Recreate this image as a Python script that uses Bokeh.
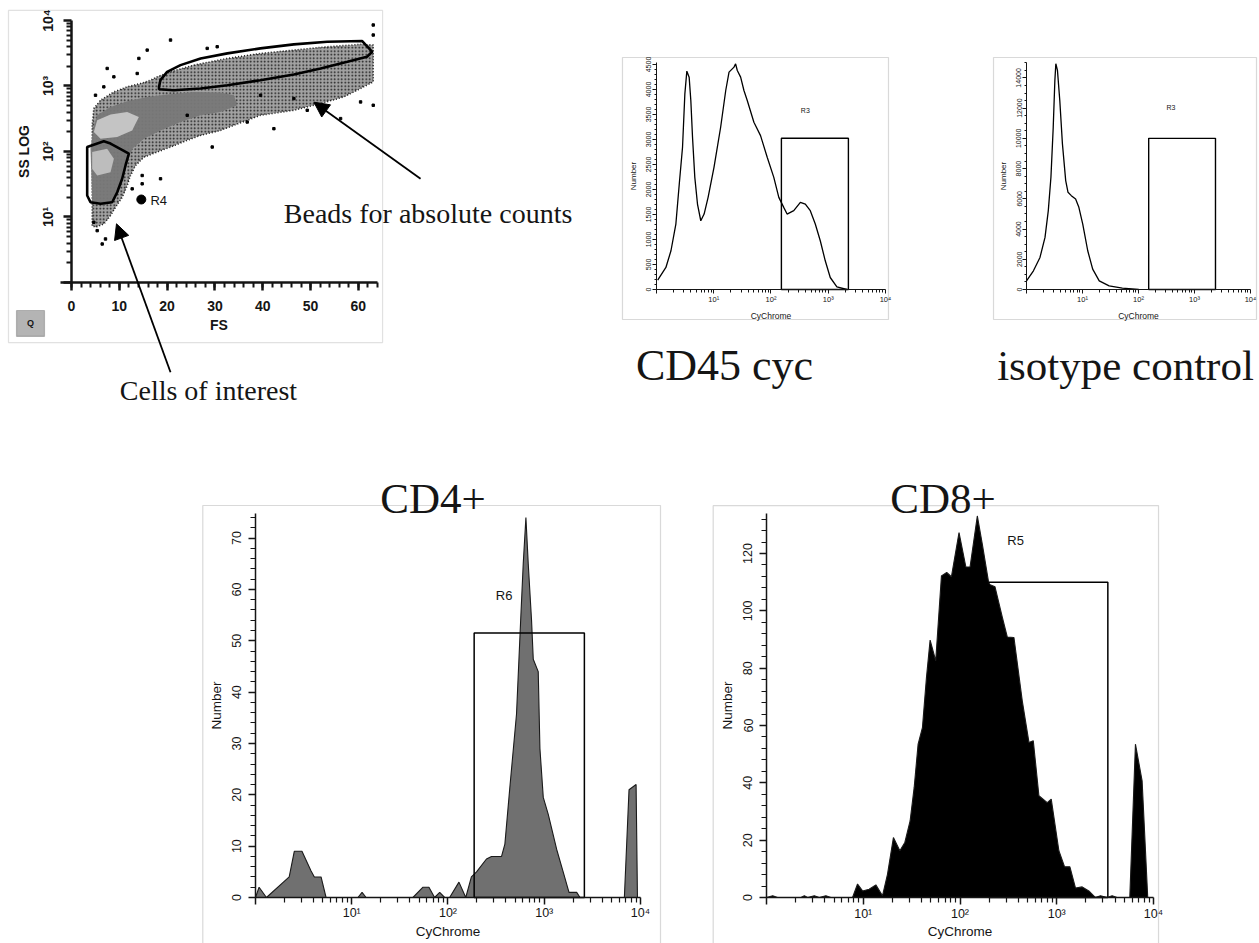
from bokeh.plotting import figure
from bokeh.layouts import row, column
from bokeh.models import FixedTicker, BoxAnnotation, Label, Arrow, NormalHead
from bokeh.embed import file_html
from bokeh.resources import INLINE

# ------------------------------------------------------------------ data
# Scatter panel: FS (linear) vs SS LOG
cloud_fs = [4.32, 4.32, 4.67, 6.07, 8.86, 11.65, 14.44, 16.53, 17.92, 20.71, 25.59, 32.57, 39.54, 46.51,
            53.49, 60.46, 63.11, 63.11, 60.46, 56.97, 52.09, 46.51, 39.54, 33.96, 31.17, 26.99, 24.2,
            20.71, 17.92, 15.13, 13.39, 12.34, 11.65, 10.6, 9.2, 8.16, 6.76, 5.02]
cloud_ss = [7.4, 251, 452, 606, 813, 970, 1091, 1227, 1380, 1645, 2083, 2636, 3141, 3533, 3975, 4316,
            4217, 1157, 915, 682, 539, 426, 357, 251, 210, 176, 148, 117, 98, 82, 61, 43, 30.3, 20,
            14.1, 10.5, 7.83, 6.96]
band_fs = [4.67, 5.37, 8.16, 11.65, 15.83, 20.01, 25.59, 31.17, 33.96, 34.66, 31.17, 26.99, 22.8,
           18.62, 15.13, 12.69, 11.99, 10.95, 9.9, 8.86, 6.76, 4.32, 3.97]
band_ss = [251, 357, 479, 585, 682, 740, 813, 794, 723, 508, 402, 357, 282, 210, 157, 110, 77.5,
           48.4, 30.3, 18.9, 14.9, 16.8, 110]
core1_fs = [5.37, 8.16, 11.65, 14.09, 12.69, 9.55, 6.07, 4.67]
core1_ss = [299, 366, 402, 337, 210, 166, 157, 199]
core2_fs = [4.32, 7.46, 8.86, 8.16, 5.37, 4.32]
core2_ss = [98, 110, 77.5, 48.4, 43, 54.5]
out_fs = [20.71, 28.38, 30.47, 15.83, 14.09, 7.46, 8.86, 13.74, 6.76, 5.02, 29.43, 18.62, 14.78,
          14.78, 12.69, 6.42, 7.11, 5.37, 4.67, 36.75, 42.33, 49.3, 56.28, 60.46, 63.11, 63.11,
          63.11, 24.2, 39.54, 46.51]
out_ss = [5024, 3750, 3975, 3533, 2636, 1852, 1380, 1552, 970, 723, 117, 38.3, 43, 32.1, 26.9,
          3.87, 4.62, 6.19, 8.3, 282, 223, 426, 318, 571, 508, 8530, 5997, 357, 723, 643]
bead_gate_fs = [18.3, 18.6, 20.0, 22.8, 27.0, 32.6, 39.5, 46.5, 53.5, 60.8, 62.9, 61.8, 57.7, 52.1,
                46.5, 39.5, 32.6, 27.0, 21.4, 18.3]
bead_gate_ss = [969, 1227, 1644, 2083, 2637, 3148, 3750, 4315, 4732, 4853, 3326, 2790, 2339, 1853,
                1500, 1227, 1028, 916, 862, 893]
cell_gate_fs = [3.28, 6.76, 8.16, 12.0, 11.3, 10.6, 9.56, 8.51, 6.07, 3.97, 3.28]
cell_gate_ss = [117, 143, 132, 92.5, 61.2, 38.3, 23.9, 16.8, 15.9, 16.8, 21.3]
r4_fs = [14.6]
r4_ss = [18.5]
fs_ticks = [0, 10, 20, 30, 40, 50, 60]

# CD45 cyc histogram
cd45_x = [1.05, 1.46, 1.79, 2.18, 2.50, 2.85, 3.13, 3.39, 3.72, 3.98, 4.26, 4.67, 5.2, 5.94, 6.79,
          7.97, 10.1, 13.2, 16.2, 18.5, 22.6, 24.1, 25.8, 29.5, 33.7, 38.5, 50.3, 65.7, 85.9, 112,
          137, 167, 191, 250, 326, 398, 486, 594, 726, 887, 1084, 1416, 2114]
cd45_n = [187, 441, 775, 1309, 2110, 2844, 3913, 4367, 4247, 3779, 3045, 2243, 1709, 1375, 1509,
          1843, 2444, 3245, 3980, 4347, 4447, 4514, 4380, 4247, 3980, 3779, 3345, 3078, 2644, 2243,
          1843, 1643, 1509, 1576, 1743, 1709, 1576, 1309, 975, 574, 240, 53, 0]
cd45_gate = (152, 2250, 3025)     # left, right, top
cd45_ticks = [0, 500, 1000, 1500, 2000, 2500, 3000, 3500, 4000, 4500]

# isotype control histogram
iso_x = [1.0, 1.33, 1.74, 2.14, 2.45, 2.73, 3.0, 3.21, 3.34, 3.57, 3.93, 4.38, 5.01, 5.51, 6.31,
         7.53, 8.61, 10.1, 12.4, 15.2, 19.9, 29.9, 51.4, 101]
iso_n = [575, 1238, 2122, 3448, 5216, 7426, 10740, 13835, 14940, 14500, 12509, 9636, 7205, 6431,
         6210, 5989, 5437, 4332, 2564, 1348, 575, 243, 88, 0]
iso_gate = (152, 2370, 10000)
iso_ticks = [0, 2000, 4000, 6000, 8000, 10000, 12000, 14000]

# CD4+ histogram
cd4_x = [1.0, 1.09, 1.30, 2.24, 2.53, 3.04, 3.77, 4.09, 4.80, 5.41, 11.6, 12.8, 14.1, 43.2, 55.0,
         63.4, 72.6, 82, 92.4, 104, 130, 153, 175, 198, 251, 283, 360, 390, 439, 515, 572, 605,
         645, 682, 738, 769, 866, 902, 977, 1101, 1345, 1578, 1808, 2173, 2353, 6800, 7600, 9000,
         9300]
cd4_n = [0, 2, 0, 4, 9, 9, 5.2, 4, 4, 0, 0, 1, 0, 0, 2, 2, 0, 1, 0, 0, 3, 0, 4, 5, 7.5, 8, 8, 10.4,
         21.4, 35.7, 55, 65, 74, 65, 54, 46.4, 44, 29, 19.5, 16.2, 9.4, 4.9, 1, 1, 0, 0, 21, 22, 0]
cd4_gate = (187, 2612, 51.5)
cd4_ticks = [0, 10, 20, 30, 40, 50, 60, 70]

# CD8+ histogram
cd8_x = [1.0, 1.16, 1.30, 2.27, 2.46, 2.66, 3.12, 3.51, 4.11, 4.63, 7.75, 8.73, 9.83, 11.5, 13.5,
         15.8, 17.8, 20.5, 23.9, 26.9, 30.5, 33.6, 36.9, 40.9, 45.0, 49.1, 56.1, 64.3, 72.9, 81.5,
         97.7, 115, 127, 151, 170, 199, 230, 274, 308, 361, 440, 516, 572, 654, 797, 877, 1052,
         1205, 1367, 1563, 1832, 2146, 2513, 2832, 3318, 3735, 4207, 5686, 6505, 7623, 8715]
cd8_n = [0, 0.6, 0, 0, 0.6, 0, 0.6, 0, 0.6, 0, 0, 4.7, 2.3, 2.9, 4.4, 0.6, 8.1, 20.9, 16.3, 19.2,
         26.7, 38.4, 53.5, 59.3, 76.7, 89.8, 82.6, 112.2, 113.4, 111.9, 127.3, 115.3, 115.3, 133.1,
         123.3, 109.3, 108.4, 97.7, 90.9, 90.7, 68.6, 54.1, 54.7, 35.5, 33.1, 34.3, 16.3, 10.7,
         10.7, 3.3, 3.7, 2.3, 0, 0.6, 0, 0.6, 0, 0, 53.5, 40.7, 0]
cd8_gate = (199, 3373, 110)
cd8_ticks = [0, 20, 40, 60, 80, 100, 120]

decades = [1, 10, 100, 1000, 10000]
decade_labels = {1: "", 10: "10¹", 100: "10²", 1000: "10³", 10000: "10⁴"}
log_minor = [m * 10 ** k for k in range(4) for m in range(2, 10)]

SANS = "Liberation Sans"
SERIF = "Liberation Serif"
INK = "#151515"


# ------------------------------------------------------------------ helpers
def base_fig(w, h, x_type, x_range, y_type, y_range):
    # whole canvas is the plotting frame; axes sit at fixed data locations inside it
    p = figure(width=w, height=h, x_axis_type=x_type, y_axis_type=y_type,
               x_range=x_range, y_range=y_range, output_backend="svg", toolbar_location=None,
               min_border=0)
    p.title.visible = False
    p.grid.visible = False
    p.outline_line_color = None
    p.background_fill_color = "white"
    p.border_fill_color = "white"
    return p


def style_axis(ax, label, tick_fs, label_fs, lw, tout, mout, standoff, lstand, loc, bounds,
               bold=False):
    ax.fixed_location = loc
    ax.bounds = bounds
    ax.axis_label = label
    ax.axis_label_text_font = SANS
    ax.axis_label_text_font_size = label_fs
    ax.axis_label_text_font_style = "bold" if bold else "normal"
    ax.axis_label_text_color = INK
    ax.axis_label_standoff = lstand
    ax.major_label_text_font = SANS
    ax.major_label_text_font_size = tick_fs
    ax.major_label_text_font_style = "bold" if bold else "normal"
    ax.major_label_text_color = INK
    ax.major_label_standoff = standoff
    ax.axis_line_width = lw
    ax.axis_line_color = INK
    ax.major_tick_in = 0
    ax.major_tick_out = tout
    ax.minor_tick_in = 0
    ax.minor_tick_out = mout
    ax.major_tick_line_color = INK
    ax.minor_tick_line_color = INK
    ax.major_tick_line_width = lw
    ax.minor_tick_line_width = max(1, lw * 0.8)


def frame_box(p, l, r, t, b, color="#808080", lw=1.2):
    p.add_layout(BoxAnnotation(left=l, right=r, top=t, bottom=b, fill_color=None,
                               line_color=color, line_width=lw, level="underlay"))


def text(p, x, y, s, size, font=SANS, align="center", baseline="alphabetic", style="normal"):
    p.add_layout(Label(x=x, y=y, text=s, text_font=font, text_font_size=size,
                       text_align=align, text_baseline=baseline, text_color=INK,
                       text_font_style=style, level="overlay"))


# ------------------------------------------------------------------ scatter panel
pA = base_fig(600, 420, "linear", (-14.85, 110.64), "log", (0.00782, 20190))
style_axis(pA.xaxis[0], "FS", "14px", "14px", 2.5, 8, 5, 11, 2, 1, (-2.3, 64), bold=True)
style_axis(pA.yaxis[0], "SS LOG", "14px", "14px", 2.5, 8, 5, 7, 6, 0, (1, 1e4), bold=True)
pA.xaxis[0].ticker = FixedTicker(ticks=fs_ticks, minor_ticks=list(range(0, 65, 2)))
pA.yaxis[0].ticker = FixedTicker(ticks=decades, minor_ticks=log_minor)
pA.yaxis[0].major_label_overrides = decade_labels
pA.yaxis[0].major_label_orientation = "vertical"

pA.patch(cloud_fs, cloud_ss, fill_color="#a2a2a2", line_color="#1e1e1e", line_width=1.6,
         line_dash="1 2", hatch_pattern="dot", hatch_color="#141414", hatch_scale=3.5,
         hatch_weight=1.2)
pA.patch(band_fs, band_ss, fill_color="#787878", line_color=None, fill_alpha=0.95)
pA.patch(core1_fs, core1_ss, fill_color="#c4c4c4", line_color=None)
pA.patch(core2_fs, core2_ss, fill_color="#bdbdbd", line_color=None)
pA.scatter(out_fs, out_ss, marker="square", size=2.4, color="black")
pA.patch(bead_gate_fs, bead_gate_ss, fill_color=None, line_color="black", line_width=2.6)
pA.patch(cell_gate_fs, cell_gate_ss, fill_color=None, line_color="black", line_width=2.6)
pA.scatter(r4_fs, r4_ss, size=9, color="black")
text(pA, 16.5, 17.9, "R4", "13px", align="left", baseline="middle")

# panel frame, Q button, annotations (layout positions)
frame_box(pA, -13.18, 65.06, 14220, 0.121, color="#9a9a9a", lw=1.2)
pA.add_layout(BoxAnnotation(left=-11.5, right=-5.65, top=0.374, bottom=0.15, fill_color="#b4b4b4",
                            fill_alpha=1, line_color="#4a4a4a", line_width=1.2, level="underlay"))
text(pA, -8.58, 0.237, "Q", "9px", baseline="middle", style="bold")
text(pA, 44.41, 11.2, "Beads for absolute counts", "28px", font=SERIF, align="left")
text(pA, 10.1, 0.0224, "Cells of interest", "28px", font=SERIF, align="left")
pA.add_layout(Arrow(end=NormalHead(size=15, fill_color="black", line_color="black"),
                    x_start=73.0, y_start=38.3, x_end=50.7, y_end=566,
                    line_color="black", line_width=1.8))
pA.add_layout(Arrow(end=NormalHead(size=15, fill_color="black", line_color="black"),
                    x_start=20.71, y_start=0.0427, x_end=9.41, y_end=7.87,
                    line_color="black", line_width=1.8))


# ------------------------------------------------------------------ small histograms
def small_hist(w, x_range, y_range, y_top, xs, ns, gate, yticks, yminor):
    p = base_fig(w, 420, "log", x_range, "linear", y_range)
    style_axis(p.xaxis[0], "CyChrome", "7.5px", "8.5px", 1, 4, 3, 1, 4, 0, (1, 1e4))
    style_axis(p.yaxis[0], "Number", "7px", "8px", 1, 4, 2, 1, 6, 1, (0, y_top))
    p.xaxis[0].ticker = FixedTicker(ticks=decades, minor_ticks=log_minor)
    p.xaxis[0].major_label_overrides = decade_labels
    p.yaxis[0].ticker = FixedTicker(ticks=yticks, minor_ticks=yminor)
    p.yaxis[0].major_label_orientation = "vertical"
    p.line(xs, ns, color="black", line_width=1.3)
    p.quad(left=[gate[0]], right=[gate[1]], bottom=[0], top=[gate[2]], fill_color=None,
           line_color="black", line_width=1.4)
    return p


pB = small_hist(340, (0.1052, 91400), (-2620, 5780), 4540, cd45_x, cd45_n, cd45_gate,
                cd45_ticks, list(range(0, 4541, 100)))
text(pB, 398, 3579, "R3", "7px", baseline="middle")
frame_box(pB, 0.2547, 11276, 4640, -600)
text(pB, 15.41, -1520, "CD45 cyc", "44px", font=SERIF)

pC = small_hist(319, (0.02911, 14480), (-8667, 19121), 15019, iso_x, iso_n, iso_gate, iso_ticks,
                list(range(0, 15001, 500)))
text(pC, 381, 12067, "R3", "7px", baseline="middle")
frame_box(pC, 0.2575, 12800, 15350, -1985)
text(pC, 58.6, -5028, "isotype control", "43px", font=SERIF)


# ------------------------------------------------------------------ large histograms
def big_hist(w, x_range, y_range, y_top, xs, ns, gate, yticks, yminor, fill):
    p = base_fig(w, 523, "log", x_range, "linear", y_range)
    style_axis(p.xaxis[0], "CyChrome", "12.5px", "13.5px", 1.5, 7, 5, 2, 0, 0, (1, 1e4))
    style_axis(p.yaxis[0], "Number", "12.5px", "13.5px", 1.5, 7, 5, 7, 6, 1, (0, y_top))
    p.xaxis[0].ticker = FixedTicker(ticks=decades, minor_ticks=log_minor)
    p.xaxis[0].major_label_overrides = decade_labels
    p.yaxis[0].ticker = FixedTicker(ticks=yticks, minor_ticks=yminor)
    p.yaxis[0].major_label_orientation = "vertical"
    p.varea(x=xs, y1=[0] * len(xs), y2=ns, fill_color=fill)
    p.line(xs, ns, color="#1a1a1a", line_width=1.1)
    p.quad(left=[gate[0]], right=[gate[1]], bottom=[0], top=[gate[2]], fill_color=None,
           line_color="black", line_width=1.5)
    return p


pD = big_hist(670, (0.002243, 20500), (-8.96, 92.91), 74.8, cd4_x, cd4_n, cd4_gate, cd4_ticks,
              [v * 2 for v in range(38)], "#707070")
text(pD, 383, 58.8, "R6", "13px", baseline="middle")
frame_box(pD, 0.2835, 16140, 76.35, -12.3)
text(pD, 69.8, 77.7, "CD4+", "43px", font=SERIF)

pE = big_hist(589, (0.1018, 124600), (-16.04, 166.4), 133.9, cd8_x, cd8_n, cd8_gate, cd8_ticks,
              [v * 4 for v in range(34)], "black")
text(pE, 376, 124.7, "R5", "13px", baseline="middle")
frame_box(pE, 0.2812, 11270, 136.7, -22)
text(pE, 66.7, 139.2, "CD8+", "43px", font=SERIF)

layout = column(row(pA, pB, pC), row(pD, pE))
open("out.html", "w").write(file_html(layout, INLINE))
